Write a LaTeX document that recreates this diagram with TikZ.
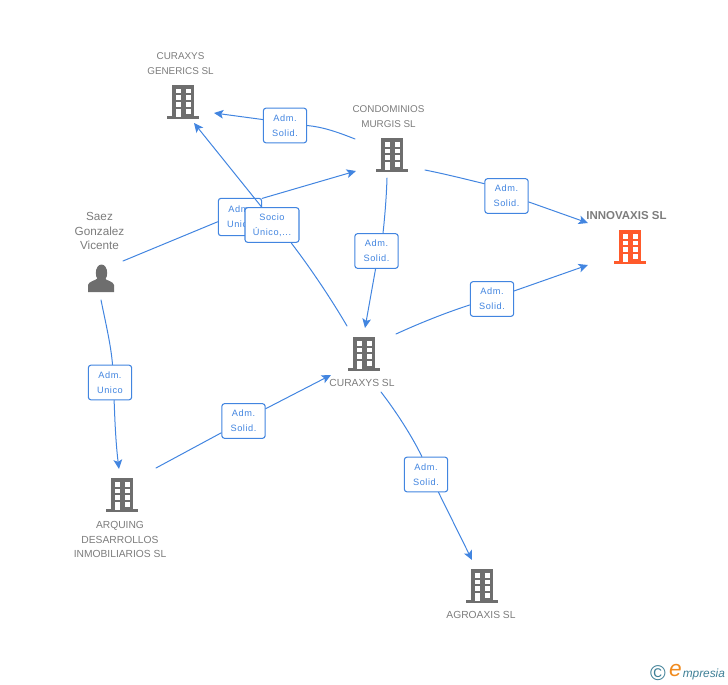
\documentclass[tikz,border=0pt]{standalone}
\usepackage{fontspec}
\setmainfont{Liberation Sans}
\newfontfamily\boxfont[LetterSpace=6]{Liberation Sans}
\usetikzlibrary{arrows.meta}
\definecolor{linkblue}{HTML}{4285E0}
\definecolor{icongray}{HTML}{6E6E6E}
\definecolor{textgray}{HTML}{7C7C7C}
\definecolor{hotorange}{HTML}{FF5A2B}
\definecolor{logoteal}{HTML}{3E7F96}
\definecolor{logoorange}{HTML}{F08A1D}
\tikzset{
	pics/building/.style={code={
		\fill[#1] (-11,-17) rectangle (11,15);
		\fill[#1] (-16,14) rectangle (16,17);
		\foreach \yy in {-13,-6.5,0}{
			\fill[white] (-7,\yy) rectangle (-2,\yy+4.5);
			\fill[white] (3,\yy) rectangle (8,\yy+4.5);
		}
		\fill[white] (-7,6.5) rectangle (-2,15);
		\fill[white] (3,6.5) rectangle (8,11.5);
	}},
	pics/person/.style={code={
		\fill[#1] (0.5,-6) ellipse (5.7 and 8.5);
		\fill[#1] (-13,13) -- (-13,6) .. controls (-12,2) and (-6,2) .. (-3,-1)
			-- (3,-1) .. controls (6,2) and (12,2) .. (13,6) -- (13,13) -- cycle;
	}},
	iconnode/.style={inner sep=0pt,minimum size=1pt},
	caption/.style={font=\fontsize{7.7}{11.2}\selectfont,text=textgray,align=center,inner sep=0pt},
	linkbox/.style={draw=linkblue,fill=white,rounded corners=2pt,line width=0.8pt,
		minimum width=32.5pt,minimum height=26pt,inner sep=0pt,align=center,
		text=linkblue,font=\boxfont\fontsize{6.9}{11.2}\selectfont},
	link/.style={draw=linkblue,line width=0.75pt},
}
\begin{document}
\begin{tikzpicture}[x=0.75pt,y=-0.75pt,>={Stealth[length=7pt,width=6.5pt,inset=1.6pt]},line cap=round]
	\useasboundingbox (0,0) rectangle (728,685);

	% companies and person
	\node[iconnode] (generics) at (183,102) {};
	\node[iconnode] (condominios) at (392,155) {};
	\node[iconnode] (innovaxis) at (630,247) {};
	\node[iconnode] (saez) at (101,279) {};
	\node[iconnode] (curaxys) at (364,354) {};
	\node[iconnode] (arquing) at (122,495) {};
	\node[iconnode] (agroaxis) at (482,586) {};
	\pic at (generics) {building=icongray};
	\pic at (condominios) {building=icongray};
	\pic at (innovaxis) {building=hotorange};
	\pic at (saez) {person=icongray};
	\pic at (curaxys) {building=icongray};
	\pic at (arquing) {building=icongray};
	\pic at (agroaxis) {building=icongray};

	\node[caption,font=\fontsize{7.4}{11.2}\selectfont] (genericslabel) at (180.5,63.5) {CURAXYS\\GENERICS SL};
	\node[caption,font=\fontsize{7.4}{11.2}\selectfont] (condominioslabel) at (388.5,116.5) {CONDOMINIOS\\MURGIS SL};
	\node[caption,font=\fontsize{8.6}{11.2}\selectfont\bfseries] (innovaxislabel) at (626.5,216) {INNOVAXIS SL};
	\node[caption,font=\fontsize{8.8}{11.2}\selectfont] (saezlabel) at (99.5,231) {Saez\\Gonzalez\\Vicente};
	\node[caption] (curaxyslabel) at (362,383) {CURAXYS SL};
	\node[caption] (arquinglabel) at (120,539.5) {ARQUING\\DESARROLLOS\\INMOBILIARIOS SL};
	\node[caption] (agroaxislabel) at (481,615) {AGROAXIS SL};

	% boxes on the links
	\node[linkbox] (boxa) at (285,125.5) {Adm.\\Solid.};
	\node[linkbox] (boxb) at (506.5,196) {Adm.\\Solid.};
	\node[linkbox] (boxc) at (376.5,251) {Adm.\\Solid.};
	\node[linkbox] (boxd) at (492,299) {Adm.\\Solid.};
	\node[linkbox,minimum height=28pt] (boxe) at (240,217) {Adm.\\Unico};
	\node[linkbox,minimum width=40.5pt] (boxf) at (272,225) {Socio\\Único,...};
	\node[linkbox] (boxg) at (110,382.5) {Adm.\\Unico};
	\node[linkbox] (boxh) at (243.5,421) {Adm.\\Solid.};
	\node[linkbox] (boxi) at (426,474.5) {Adm.\\Solid.};

	% links
	\draw[link] ([shift={(-37,-16)}]condominios.center) .. controls (335,131) and (322,127) .. (boxa.east);
	\draw[link,->] (boxa.165) -- ([shift={(31,11)}]generics.center);
	\draw[link] ([shift={(33,15)}]condominios.center) .. controls (445,174) and (465,179) .. (boxb.151);
	\draw[link,->] (boxb.-15) -- ([shift={(-42,-24)}]innovaxis.center);
	\draw[link] ([shift={(-5,23)}]condominios.center) .. controls (386.5,195) and (385,215) .. (boxc.70);
	\draw[link,->] (boxc.-93) -- ([shift={(1,-26)}]curaxys.center);
	\draw[link] ([shift={(32,-20)}]curaxys.center) .. controls (420,323) and (445,313) .. (boxd.195);
	\draw[link,->] (boxd.20) -- ([shift={(-42,18)}]innovaxis.center);
	\draw[link] ([shift={(-17,-28)}]curaxys.center) .. controls (333,302) and (312,270) .. (boxf.-43);
	\draw[link,->] (boxf.120) -- ([shift={(11,21)}]generics.center);
	\draw[link] ([shift={(22,-18)}]saez.center) -- (boxe.192);
	\draw[link,->] (boxe.40) -- ([shift={(-36,16)}]condominios.center);
	\draw[link] ([shift={(0,21)}]saez.center) .. controls (105,320) and (111,345) .. (boxg.82);
	\draw[link,->] (boxg.-77) .. controls (115,425) and (116,445) .. ([shift={(-3,-26)}]arquing.center);
	\draw[link] ([shift={(34,-27)}]arquing.center) -- (boxh.208);
	\draw[link,->] (boxh.29) -- ([shift={(-33,21)}]curaxys.center);
	\draw[link] ([shift={(17,38)}]curaxys.center) .. controls (395,410) and (412,436) .. (boxi.103);
	\draw[link,->] (boxi.-55) -- ([shift={(-10,-26)}]agroaxis.center);

	% logo
	\node[inner sep=0pt,text=logoteal,font=\fontsize{16}{18}\selectfont] (logocopy) at (658,673) {©};
	\node[inner sep=0pt,anchor=east,text=logoorange,font=\fontsize{17}{18}\selectfont\itshape] (logoe) at (682,671) {e};
	\node[inner sep=0pt,anchor=west,text=logoteal,font=\fontsize{8.9}{10}\selectfont\itshape] (logotext) at (682.5,674) {mpresia};
\end{tikzpicture}
\end{document}
